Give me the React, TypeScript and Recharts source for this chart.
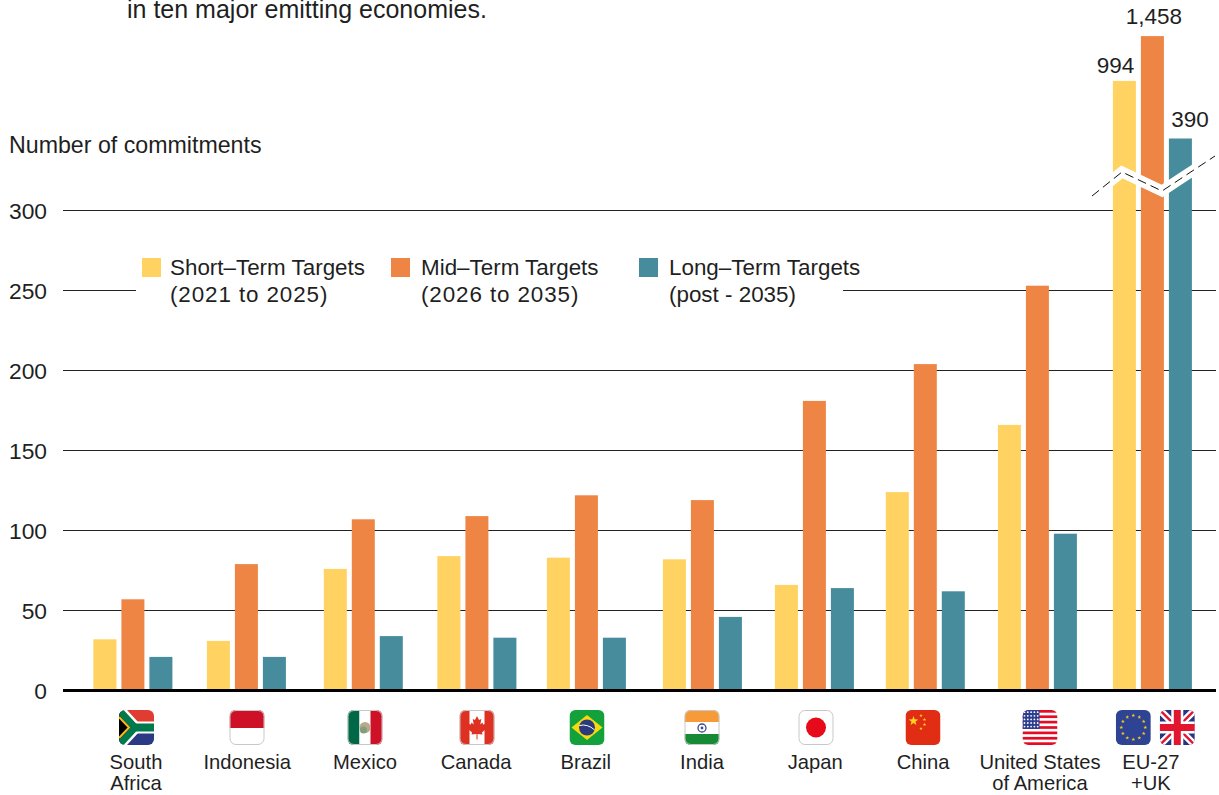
import React from "react";
import { BarChart, Bar, XAxis, YAxis, CartesianGrid, Legend, LabelList } from "recharts";

const countries = ["South Africa", "Indonesia", "Mexico", "Canada", "Brazil", "India", "Japan", "China", "United States of America", "EU-27 +UK"];
const labelLines = [["South", "Africa"], ["Indonesia"], ["Mexico"], ["Canada"], ["Brazil"], ["India"], ["Japan"], ["China"], ["United States", "of America"], ["EU-27", "+UK"]];
const shortTerm = [32, 31, 76, 84, 83, 82, 66, 124, 166, 994];
const midTerm = [57, 79, 107, 109, 122, 119, 181, 204, 253, 1458];
const longTerm = [21, 21, 34, 33, 33, 46, 64, 62, 98, 390];
const yTicks = [0, 50, 100, 150, 200, 250, 300];

const seriesNames = ["Short–Term Targets", "Mid–Term Targets", "Long–Term Targets"];
const seriesRanges = ["(2021 to 2025)", "(2026 to 2035)", "(post - 2035)"];

const YELLOW = "#FFD262";
const ORANGE = "#EE8545";
const TEAL = "#468C9C";
const INK = "#1f1f1f";
const FONT = "'Liberation Sans', Arial, sans-serif";

// The axis is broken above 300: values past the break are compressed.
const breakAnchors = [[0, 0], [300, 300], [390, 345], [994, 381], [1458, 409]];
function axisValue(v: number) {
  for (let i = 1; i < breakAnchors.length; i++) {
    const [a, b] = breakAnchors[i - 1];
    const [c, d] = breakAnchors[i];
    if (v <= c) return b + ((v - a) * (d - b)) / (c - a);
  }
  return v;
}

const rows = countries.map((name, i) => ({ name, short: shortTerm[i], mid: midTerm[i], long: longTerm[i] }));

// layout nudges: the source's country groups are not perfectly evenly spaced
const barNudge = [0, 0.3, 4, 4.4, 0.7, 3.5, 2.3, 0, -1.1, 0.7];
const tickNudge = [3, 1, 5.6, 3.4, 0, 3, 3, -2.4, 1.4, -1];
const flagNudge = [3.5, 0.8, 5.6, 4.4, 1.2, 3, 3.8, -2.4, 1.4, 0];

function NudgedBar(props: any) {
  const { x, y, width, height, fill, index } = props;
  return <rect x={x + barNudge[index]} y={y} width={width} height={height} fill={fill} />;
}

function Flag({ id, children, border }: { id: string; children: React.ReactNode; border?: boolean }) {
  return (
    <g>
      <clipPath id={id}><rect width={35} height={35} rx={6} /></clipPath>
      <g clipPath={`url(#${id})`}>{children}</g>
      {border && <rect x={0.5} y={0.5} width={34} height={34} rx={6} fill="none" stroke="#c8c8c8" strokeWidth={1} />}
    </g>
  );
}

const star = (cx: number, cy: number, r: number, fill: string, key?: number) => {
  const pts: string[] = [];
  for (let i = 0; i < 10; i++) {
    const a = -Math.PI / 2 + (i * Math.PI) / 5;
    const rr = i % 2 ? r * 0.42 : r;
    pts.push(`${cx + rr * Math.cos(a)},${cy + rr * Math.sin(a)}`);
  }
  return <polygon key={key} points={pts.join(" ")} fill={fill} />;
};

const flagDrawings: (() => React.ReactNode)[] = [
  () => (
    <Flag id="f-za">
      <rect width={35} height={17.5} fill="#E03C31" />
      <rect y={17.5} width={35} height={17.5} fill="#2A3A84" />
      <path d="M-2,-2 L16,17.5 L-2,37" fill="none" stroke="#fff" strokeWidth={12} />
      <rect x={14} y={11.5} width={23} height={12} fill="#fff" />
      <path d="M-2,-2 L16,17.5 L-2,37" fill="#000" stroke="#007A4D" strokeWidth={7} />
      <rect x={14} y={13.5} width={23} height={8} fill="#007A4D" />
      <path d="M0,7 L10,17.5 L0,28" fill="#000" stroke="#FFB81C" strokeWidth={2} />
    </Flag>
  ),
  () => (
    <Flag id="f-id" border>
      <rect width={35} height={35} fill="#fff" />
      <rect width={35} height={18} fill="#CE1126" />
    </Flag>
  ),
  () => (
    <Flag id="f-mx" border>
      <rect width={12} height={35} fill="#006847" />
      <rect x={12} width={11} height={35} fill="#fff" />
      <rect x={23} width={12} height={35} fill="#CE1126" />
      <circle cx={17.5} cy={17.5} r={5.5} fill="#b9a98a" />
      <circle cx={16} cy={20} r={3.5} fill="#7f9e7c" />
    </Flag>
  ),
  () => (
    <Flag id="f-ca" border>
      <rect width={35} height={35} fill="#fff" />
      <rect width={10} height={35} fill="#DE3121" />
      <rect x={25} width={10} height={35} fill="#DE3121" />
      <path d="M17.5,6 L19.5,10 L21.8,9 L20.8,14.5 L23,12.5 L23.6,14.4 L27,13.8 L26,17 L27.5,18 L22.5,22.6 L23,24.5 L18,24 L18,29.5 L17,29.5 L17,24 L12,24.5 L12.5,22.6 L7.5,18 L9,17 L8,13.8 L11.4,14.4 L12,12.5 L14.2,14.5 L13.2,9 L15.5,10 Z" fill="#DE3121" />
    </Flag>
  ),
  () => (
    <Flag id="f-br">
      <rect width={35} height={35} fill="#12A13B" />
      <polygon points="17.5,5 33,17.5 17.5,30 2,17.5" fill="#F8D90F" />
      <circle cx={17.5} cy={17.5} r={8} fill="#2B3A7D" />
      <path d="M9.8,15.5 Q18,13.5 25.2,20" fill="none" stroke="#fff" strokeWidth={1} />
    </Flag>
  ),
  () => (
    <Flag id="f-in" border>
      <rect width={35} height={12} fill="#F79A38" />
      <rect y={12} width={35} height={12} fill="#fff" />
      <rect y={24} width={35} height={11} fill="#178A36" />
      <circle cx={17.5} cy={18} r={4} fill="none" stroke="#3E4C8F" strokeWidth={1.3} />
      <circle cx={17.5} cy={18} r={1.4} fill="#3E4C8F" />
    </Flag>
  ),
  () => (
    <Flag id="f-jp" border>
      <rect width={35} height={35} fill="#fff" />
      <circle cx={17.5} cy={17.5} r={10} fill="#E60A1A" />
    </Flag>
  ),
  () => (
    <Flag id="f-cn">
      <rect width={35} height={35} fill="#E02D14" />
      {star(8, 11, 5, "#FFD21E")}
      {star(15.5, 5.5, 1.8, "#FFD21E")}
      {star(19, 9.5, 1.8, "#FFD21E")}
      {star(19, 14.5, 1.8, "#FFD21E")}
      {star(15.5, 18.5, 1.8, "#FFD21E")}
    </Flag>
  ),
  () => (
    <Flag id="f-us">
      <rect width={35} height={35} fill="#fff" />
      {[0, 2, 4, 6, 8, 10, 12].map((k) => <rect key={k} y={(k * 35) / 13} width={35} height={35 / 13} fill="#E60A25" />)}
      <rect width={17} height={19} fill="#2D3F8F" />
      {[0, 1, 2, 3, 4].map((r) => [0, 1, 2, 3, 4].map((c) => <circle key={`${r}-${c}`} cx={2 + c * 3.3} cy={2.2 + r * 3.6} r={0.9} fill="#fff" />))}
    </Flag>
  ),
];

function EuUkFlags() {
  return (
    <g>
      <g transform="translate(-36,0)">
        <Flag id="f-eu">
          <rect width={35} height={35} fill="#2E4393" />
          {Array.from({ length: 12 }).map((_, k) => {
            const a = (k * Math.PI) / 6;
            return star(17.5 + 12 * Math.cos(a), 17.5 + 12 * Math.sin(a), 2, "#F5C71A", k);
          })}
        </Flag>
      </g>
      <g transform="translate(8,0)">
        <Flag id="f-uk">
          <rect width={35} height={35} fill="#26377F" />
          <path d="M0,0 L35,35 M35,0 L0,35" stroke="#fff" strokeWidth={7} />
          <path d="M0,0 L35,35 M35,0 L0,35" stroke="#E2172F" strokeWidth={2.4} />
          <path d="M17.5,0 V35 M0,17.5 H35" stroke="#fff" strokeWidth={12} />
          <path d="M17.5,0 V35 M0,17.5 H35" stroke="#E2172F" strokeWidth={7} />
        </Flag>
      </g>
    </g>
  );
}

function CountryTick(props: any) {
  const { x, index } = props;
  const i = index as number;
  const lines = labelLines[i];
  const flagCenter = x + flagNudge[i];
  return (
    <g>
      <g transform={`translate(${flagCenter - (i === 9 ? 0 : 17.5)},710)`}>
        {i === 9 ? <EuUkFlags /> : flagDrawings[i]()}
      </g>
      {lines.map((l, k) => (
        <text key={l} x={x + tickNudge[i]} y={769 + k * 21} textAnchor="middle" fontFamily={FONT} fontSize={20.2} fill={INK}>
          {l}
        </text>
      ))}
    </g>
  );
}

function makeOverLabel(values: number[], shiftX: number, gap: number) {
  return function OverLabel(props: any) {
    const { x, y, width, index } = props;
    if (values[index] <= 300) return null;
    return (
      <text x={x + width / 2 + barNudge[index] + shiftX} y={y - gap} textAnchor="middle" fontFamily={FONT} fontSize={22.5} fill={INK}>
        {values[index].toLocaleString("en-US")}
      </text>
    );
  };
}

function LegendBlock(props: any) {
  const items = props.payload || [];
  const squares = [6, 255, 503];
  const texts = [34, 285, 533];
  return (
    <div style={{ position: "relative", width: 707, height: 62, background: "#fff", fontFamily: FONT, fontSize: 22.4, color: INK }}>
      {seriesNames.map((name, i) => {
        const it = items.find((p: any) => p.value === name);
        return (
          <div key={name}>
            <div style={{ position: "absolute", left: squares[i], top: 8, width: 19, height: 19, background: it ? it.color : undefined }} />
            <div style={{ position: "absolute", left: texts[i], top: 4, lineHeight: "27px", whiteSpace: "nowrap" }}>
              {name}
              <br />
              <span style={{ letterSpacing: i < 2 ? 0.9 : 0 }}>{seriesRanges[i]}</span>
            </div>
          </div>
        );
      })}
    </div>
  );
}

export default function App() {
  return (
    <div style={{ position: "absolute", left: 0, top: 0, width: 1219, height: 795, overflow: "hidden", background: "#fff" }}>
      <BarChart
        width={1219}
        height={795}
        data={rows}
        margin={{ top: 10.5, right: 3, bottom: 0.5, left: 0 }}
        barSize={23}
        barGap={5}
      >
        <CartesianGrid vertical={false} stroke="#222" strokeWidth={1} horizontalValues={[50, 100, 150, 200, 250, 300]} />
        <XAxis
          dataKey="name"
          height={104}
          interval={0}
          padding={{ left: 13.4, right: 7.6 }}
          axisLine={{ stroke: "#000", strokeWidth: 3 }}
          tickLine={false}
          tick={<CountryTick />}
        />
        <YAxis
          width={63}
          domain={[0, 425]}
          ticks={yTicks}
          allowDataOverflow
          axisLine={false}
          tickLine={false}
          tickMargin={10}
          tick={{ fill: INK, fontSize: 22.8, fontFamily: FONT }}
        />
        <Legend
          layout="horizontal"
          verticalAlign="middle"
          align="center"
          wrapperStyle={{ left: 136, top: 250, width: 707, height: 62 }}
          content={<LegendBlock />}
        />
        <Bar name={seriesNames[0]} dataKey={(d: any) => axisValue(d.short)} fill={YELLOW} isAnimationActive={false} shape={<NudgedBar />}>
          <LabelList content={makeOverLabel(shortTerm, -9, 8)} />
        </Bar>
        <Bar name={seriesNames[1]} dataKey={(d: any) => axisValue(d.mid)} fill={ORANGE} isAnimationActive={false} shape={<NudgedBar />}>
          <LabelList content={makeOverLabel(midTerm, 1.5, 12)} />
        </Bar>
        <Bar name={seriesNames[2]} dataKey={(d: any) => axisValue(d.long)} fill={TEAL} isAnimationActive={false} shape={<NudgedBar />}>
          <LabelList content={makeOverLabel(longTerm, 9.5, 12)} />
        </Bar>
      </BarChart>
      <svg width={1219} height={795} style={{ position: "absolute", left: 0, top: 0, pointerEvents: "none" }}>
        <polyline points="1108,183 1122,172 1162,191 1180,179 1200,166" fill="none" stroke="#fff" strokeWidth={11} />
        <polyline points="1092,196 1122,172 1162,191 1215,156" fill="none" stroke="#111" strokeWidth={1} strokeDasharray="9 5" />
      </svg>
      <div style={{ position: "absolute", left: 127, top: 0, fontFamily: FONT, fontSize: 25, lineHeight: "19px", color: INK, whiteSpace: "nowrap" }}>
        in ten major emitting economies.
      </div>
      <div style={{ position: "absolute", left: 9, top: 131, fontFamily: FONT, fontSize: 23.2, lineHeight: "28px", color: INK, whiteSpace: "nowrap" }}>
        Number of commitments
      </div>
    </div>
  );
}
